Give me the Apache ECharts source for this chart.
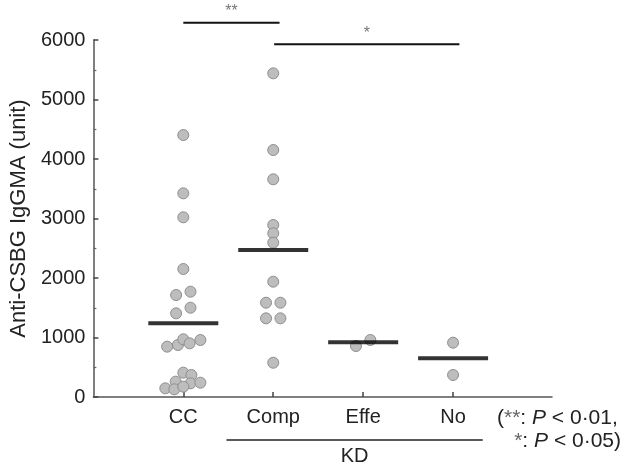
<!DOCTYPE html>
<html><head><meta charset="utf-8">
<script src="https://cdn.jsdelivr.net/npm/echarts@6/dist/echarts.min.js"></script>
<style>html,body{margin:0;padding:0;background:#fff}#c{width:628px;height:470px}</style>
</head><body><div id="c"></div>
<script>
// ---- data ----
const categories = ['CC', 'Comp', 'Effe', 'No'];
const yTickValues = [0, 1000, 2000, 3000, 4000, 5000, 6000];
const ccValues   = [4403, 3423, 3020, 2151, 1770, 1714, 1501, 1406, 846, 874, 970, 902, 958, 409, 370, 258, 230, 241, 146, 129, 174];
const ccJitter   = [0, 0, 0, 0, 0.08, -0.08, 0.08, -0.08, -0.18, -0.06, 0, 0.07, 0.19, 0, 0.09, -0.085, 0.08, 0.19, -0.2, -0.1, 0];
const compValues = [5440, 4151, 3659, 2891, 2751, 2594, 1938, 1585, 1585, 1322, 1322, 576];
const compJitter = [0, 0, 0, 0, 0, 0, 0, -0.08, 0.08, -0.08, 0.08, 0];
const effeValues = [857, 958];
const effeJitter = [-0.08, 0.08];
const noValues   = [913, 370];
const noJitter   = [0, 0];
const meanValues = [1238, 2471, 919, 650];
const sigLabels  = ['**', '*'];
const sigFrom    = [1, 2.01];
const sigTo      = [2.07, 4.07];
const sigLevel   = [6290, 5930];
const groupLabel = 'KD';
const yName = 'Anti-CSBG IgGMA (unit)';

const FONT = '"Liberation Sans", Arial, Helvetica, sans-serif';
const groups = [[ccValues, ccJitter], [compValues, compJitter], [effeValues, effeJitter], [noValues, noJitter]];
const pointData = [];
groups.forEach((g, i) => g[0].forEach((v, j) => pointData.push([i + 1 + g[1][j], v])));
const meanData = meanValues.map((v, i) => [i + 1, v]);

const chart = echarts.init(document.getElementById('c'));
chart.setOption({
  animation: false,
  backgroundColor: '#fff',
  grid: { left: 90, right: 76, top: 40, bottom: 73 },
  xAxis: {
    type: 'value', min: 0, max: 5.1, interval: 1,
    splitLine: { show: false },
    axisLine: { lineStyle: { color: '#555', width: 1.5 } },
    axisTick: { inside: true, length: 5, customValues: [1, 2, 3, 4], lineStyle: { color: '#444', width: 1.5 } },
    axisLabel: { customValues: [1, 2, 3, 4], formatter: v => categories[Math.round(v) - 1] || '',
      fontFamily: FONT, fontSize: 20, color: '#222', margin: 10 }
  },
  yAxis: {
    type: 'value', min: 0, max: 6000, interval: 1000,
    name: yName, nameLocation: 'middle', nameGap: 59,
    nameTextStyle: { fontFamily: FONT, fontSize: 22, color: '#222' },
    splitLine: { show: false },
    axisLine: { show: true, lineStyle: { color: '#555', width: 1.5 } },
    axisTick: { inside: true, length: 5, lineStyle: { color: '#444', width: 1.5 } },
    minorTick: { show: true, splitNumber: 2, length: 3, lineStyle: { color: '#666', width: 1.2 } },
    axisLabel: { fontFamily: FONT, fontSize: 20, color: '#222', margin: 8,
      customValues: yTickValues, formatter: v => String(v) }
  },
  series: [
    { type: 'scatter', data: pointData, symbolSize: 11,
      itemStyle: { color: '#bdbdbd', borderColor: '#8e8e8e', borderWidth: 1, opacity: 1 }, z: 2 },
    { type: 'scatter', data: meanData, symbol: 'rect', symbolSize: [70, 4],
      itemStyle: { color: '#000' }, z: 3 }
  ]
});

function px(x, y) { return chart.convertToPixel({ gridIndex: 0 }, [x, y]); }
const graphics = [];
sigLabels.forEach((lab, i) => {
  const a = px(sigFrom[i], sigLevel[i]), b = px(sigTo[i], sigLevel[i]);
  graphics.push({ type: 'line', shape: { x1: a[0], y1: a[1], x2: b[0], y2: b[1] }, style: { stroke: '#111', lineWidth: 2 } });
  graphics.push({ type: 'text', x: (a[0] + b[0]) / 2, y: a[1] - 3,
    style: { text: lab, fontFamily: FONT, fontSize: 16, fill: '#777', textAlign: 'center', textVerticalAlign: 'bottom' } });
});
const k1 = px(1.48, 0), k2 = px(4.33, 0);
const kdY = k1[1] + 43;
graphics.push({ type: 'line', shape: { x1: k1[0], y1: kdY, x2: k2[0], y2: kdY }, style: { stroke: '#222', lineWidth: 1.5 } });
graphics.push({ type: 'text', x: (k1[0] + k2[0]) / 2, y: kdY + 6,
  style: { text: groupLabel, fontFamily: FONT, fontSize: 20, fill: '#222', textAlign: 'center', textVerticalAlign: 'top' } });
graphics.push({ type: 'text', x: 497, y: k1[1] + 21,
  style: { text: '({s|**}: {i|P} < 0·01,', fontFamily: FONT, fontSize: 21, fill: '#222', textAlign: 'left', textVerticalAlign: 'middle',
    rich: { i: { fontStyle: 'italic', fontFamily: FONT, fontSize: 21, fill: '#222' }, s: { fontFamily: FONT, fontSize: 21, fill: '#666' } } } });
graphics.push({ type: 'text', x: 621, y: k1[1] + 44,
  style: { text: '{s|*}: {i|P} < 0·05)', fontFamily: FONT, fontSize: 21, fill: '#222', textAlign: 'right', textVerticalAlign: 'middle',
    rich: { i: { fontStyle: 'italic', fontFamily: FONT, fontSize: 21, fill: '#222' }, s: { fontFamily: FONT, fontSize: 21, fill: '#666' } } } });
chart.setOption({ graphic: graphics });
</script></body></html>
